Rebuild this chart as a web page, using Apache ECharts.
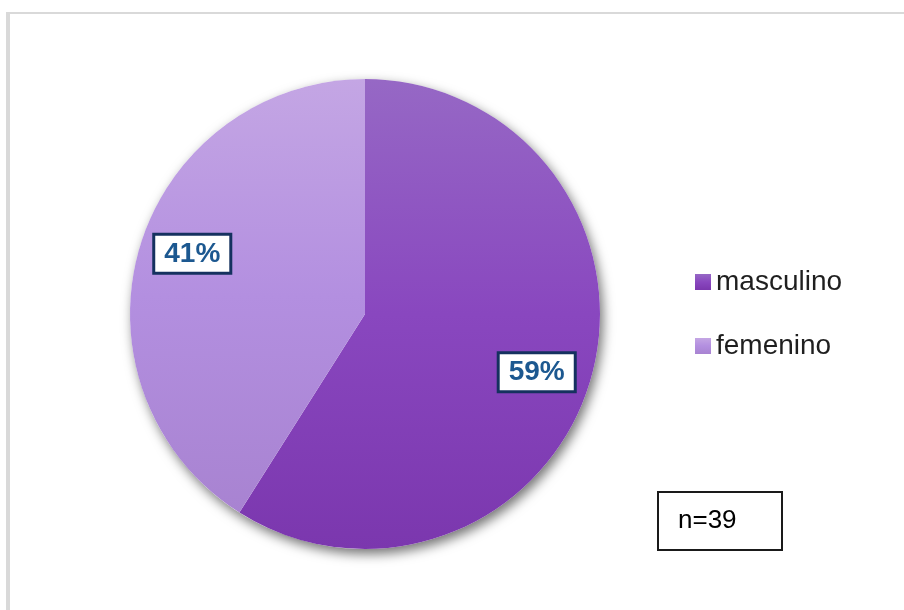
<!DOCTYPE html>
<html>
<head>
<meta charset="utf-8">
<title>Sexo</title>
<script src="https://cdn.jsdelivr.net/npm/echarts@6/dist/echarts.min.js"></script>
<style>
    html, body { margin: 0; padding: 0; background: #fff; }
    #chartDiv { width: 904px; height: 610px; }
</style>
</head>
<body>
<div id="chartDiv"></div>
<script>
// datos
var categorias = ['masculino', 'femenino'];
var valores = [23, 16];
var totalTexto = 'n=39';

var colores = [
    ['#9668c5', '#8947bf', '#7b37ae'],
    ['#c4a6e4', '#b38fe0', '#a883d1']
];
// ajuste fino de las etiquetas
var desplazamientos = [[-5, 7], [4, -9]];

function degradado(c) {
    return {
        type: 'linear', x: 0, y: 0, x2: 0, y2: 1,
        colorStops: [
            { offset: 0, color: c[0] },
            { offset: 0.5, color: c[1] },
            { offset: 1, color: c[2] }
        ]
    };
}

var datosPie = [];
var datosEtiqueta = [];
for (var i = 0; i < categorias.length; i++) {
    datosPie.push({ name: categorias[i], value: valores[i], itemStyle: { color: degradado(colores[i]) } });
    datosEtiqueta.push({ name: categorias[i], value: valores[i], label: { offset: desplazamientos[i] } });
}

var centro = [365, 314];
var radio = 235;
var fuente = "'Liberation Sans', Arial, sans-serif";

var option = {
    backgroundColor: '#fff',
    animation: false,
    legend: {
        orient: 'vertical',
        left: 690,
        top: 263,
        icon: 'rect',
        itemWidth: 16,
        itemHeight: 16,
        itemGap: 36,
        selectedMode: false,
        data: categorias,
        textStyle: {
            fontFamily: fuente,
            fontSize: 28,
            color: '#1f1f1f'
        }
    },
    graphic: [
        // marco gris
        { type: 'rect', shape: { x: 6, y: 12, width: 898, height: 2 }, style: { fill: '#d9d9d9' } },
        { type: 'rect', shape: { x: 6, y: 12, width: 4, height: 598 }, style: { fill: '#d9d9d9' } },
        // caja n=39
        {
            type: 'rect',
            shape: { x: 658, y: 492, width: 124, height: 58 },
            style: { fill: '#fff', stroke: '#1a1a1a', lineWidth: 2 }
        },
        {
            type: 'text',
            x: 678, y: 521,
            style: {
                text: totalTexto,
                fontFamily: fuente,
                fontSize: 26,
                fill: '#000',
                verticalAlign: 'middle'
            }
        }
    ],
    series: [
        {
            // sombra del circulo
            type: 'pie',
            center: centro,
            radius: radio,
            silent: true,
            label: { show: false },
            labelLine: { show: false },
            emphasis: { disabled: true },
            itemStyle: {
                color: '#fff',
                shadowBlur: 12,
                shadowOffsetX: 3,
                shadowOffsetY: 5,
                shadowColor: 'rgba(0,0,0,0.55)'
            },
            data: [{ name: '', value: 1 }]
        },
        {
            type: 'pie',
            center: centro,
            radius: radio,
            startAngle: 90,
            clockwise: true,
            silent: true,
            label: { show: false },
            labelLine: { show: false },
            emphasis: { disabled: true },
            data: datosPie
        },
        {
            // etiquetas de porcentaje
            type: 'pie',
            center: centro,
            radius: [127, radio],
            startAngle: 90,
            clockwise: true,
            silent: true,
            percentPrecision: 0,
            itemStyle: { color: 'rgba(0,0,0,0)' },
            labelLine: { show: false },
            emphasis: { disabled: true },
            label: {
                show: true,
                position: 'inside',
                formatter: '{d}%',
                fontFamily: fuente,
                fontSize: 28,
                fontWeight: 'bold',
                color: '#1c5890',
                backgroundColor: '#fff',
                borderColor: '#15315f',
                borderWidth: 3,
                padding: [4, 9, 2, 9],
                lineHeight: 30
            },
            data: datosEtiqueta
        }
    ]
};

var myChart = echarts.init(document.getElementById('chartDiv'));
myChart.setOption(option);
</script>
</body>
</html>
